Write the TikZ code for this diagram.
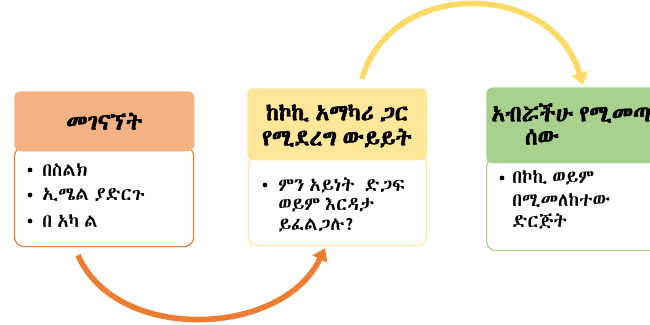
\documentclass[tikz,border=0pt]{standalone}
\usepackage{fontspec}
\IfFontExistsTF{Abyssinica SIL}{%
  \newfontfamily\eth[Script=Ethiopic, WordSpace=0.6, BoldFont={Abyssinica SIL}, BoldFeatures={FakeBold=2.5}]{Abyssinica SIL}}{%
  \IfFontExistsTF{FreeSerif}{%
    \newfontfamily\eth[Script=Ethiopic, WordSpace=0.6, BoldFont={FreeSerif}, BoldFeatures={FakeBold=2.5}]{FreeSerif}}{%
    \newfontfamily\eth[BoldFont={DejaVu Sans}, BoldFeatures={FakeBold=2.5}]{DejaVu Sans}}}
\usetikzlibrary{arrows.meta,calc}
\definecolor{orH}{HTML}{F4B183}
\definecolor{orB}{HTML}{ED7D31}
\definecolor{yeH}{HTML}{FFE699}
\definecolor{yeB}{HTML}{FFE699}
\definecolor{grH}{HTML}{A9D18E}
\definecolor{grB}{HTML}{A9D18E}
\definecolor{yeA}{HTML}{FFD966}
\tikzset{
  hdr/.style={rounded corners=5pt, anchor=north west, inner sep=0pt},
  bdy/.style={rounded corners=7pt, anchor=north west, fill=white, line width=0.9pt, inner sep=0pt},
  htxt/.style={font=\eth\fontsize{17}{19}\selectfont\bfseries, inner sep=0pt},
  btxt/.style={font=\eth\fontsize{14}{16}\selectfont, inner sep=0pt, anchor=west},
  bul/.style={circle, fill=black, inner sep=0pt, minimum size=3.6pt},
  arc/.style={line width=4.2pt, -{Triangle[length=9pt,width=12pt]}},
}
\begin{document}
\begin{tikzpicture}[x=0.75pt,y=-0.75pt]
\useasboundingbox (0,0) rectangle (650,325);
\clip (0,0) rectangle (650,325);
% box 1
\node[bdy, draw=orB, minimum width=179*0.75pt, minimum height=100*0.75pt] (b1) at (14,146) {};
\node[hdr, fill=orH, minimum width=180*0.75pt, minimum height=60*0.75pt] (h1) at (14,91) {};
\node[htxt] (t1) at (h1.center) {መገናኘት};
\node[bul] (d11) at (30,170) {};
\node[btxt] (l11) at (42,170) {በስልክ};
\node[bul] (d12) at (30,195) {};
\node[btxt] (l12) at (42,195) {ኢሜል ያድርጉ};
\node[bul] (d13) at (30,221) {};
\node[btxt] (l13) at (42,221) {በ አካ ል};
% box 2
\node[bdy, draw=yeB, minimum width=178*0.75pt, minimum height=90*0.75pt] (b2) at (248,155) {};
\node[hdr, fill=yeH, minimum width=180*0.75pt, minimum height=72*0.75pt] (h2) at (247,88) {};
\node[htxt] (t2a) at (337,113) {ከኮኪ አማካሪ ጋር};
\node[htxt] (t2b) at (337,138) {የሚደረግ ውይይት};
\node[bul] (d21) at (265,185) {};
\node[btxt] (l21) at (278,185) {ምን አይነት \ ድጋፍ};
\node[btxt] (l22) at (278,205) {ወይም እርዳታ};
\node[btxt] (l23) at (278,225) {ይፈልጋሉ?};
% box 3
\node[bdy, draw=grB, minimum width=200*0.75pt, minimum height=93*0.75pt] (b3) at (486,157) {};
\node[hdr, fill=grH, minimum width=200*0.75pt, minimum height=76*0.75pt] (h3) at (486,87) {};
\node[htxt, anchor=west] (t3a) at (491,113) {አብሯችሁ የሚመጣ};
\node[htxt] (t3b) at (542,137) {ሰው};
\node[bul] (d31) at (502,178) {};
\node[btxt] (l31) at (512,178) {በኮኪ ወይም};
\node[btxt] (l32) at (512,201) {በሚመለከተው};
\node[btxt] (l33) at (512,222) {ድርጅት};
% arrows
\coordinate (s1) at ($(b1.south west)+(64,8)$);
\coordinate (e1) at ($(b2.south west)+(77,2)$);
\draw[arc, color=orB] (s1) .. controls (116,343) and (282,338) .. (e1);
\coordinate (s2) at ($(h2.north west)+(115,-9)$);
\coordinate (e2) at ($(h3.north west)+(97,-2)$);
\draw[arc, color=yeA] (s2) .. controls (390,-21) and (552,-21) .. (e2);
\end{tikzpicture}
\end{document}
